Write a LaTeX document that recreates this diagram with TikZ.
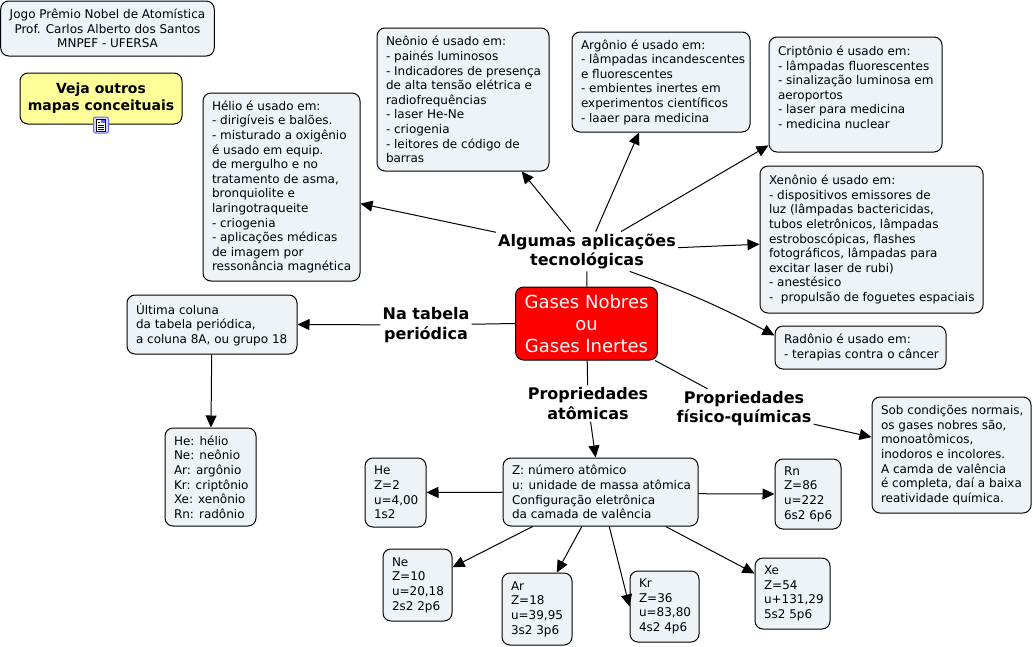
\documentclass[tikz,border=0pt]{standalone}
\usepackage{fontspec}
\setmainfont{DejaVu Sans}
\usetikzlibrary{arrows.meta, positioning}
\definecolor{boxfill}{HTML}{EDF3F6}
\definecolor{noteyellow}{HTML}{FFFF99}
\tikzset{
  mapbox/.style={draw=black, fill=boxfill, rounded corners=8pt, line width=1pt, inner xsep=9pt, inner ysep=0pt,
    align=center, font=\fontsize{12}{14.6}\selectfont},
  listbox/.style={mapbox, align=flush left, execute at begin node={\rightskip=-15pt plus 1fil\relax}},
  linkword/.style={fill=white, inner sep=2pt, align=center, font=\fontsize{16}{19.5}\selectfont\bfseries},
  link/.style={line width=1pt},
  linkarrow/.style={line width=1pt, -{Triangle[length=12pt,width=11pt]}}
}
\begin{document}
\begin{tikzpicture}[x=1pt, y=-1pt]
  \useasboundingbox (0,0) rectangle (1033,646);
  % topo
  \node[mapbox, minimum width=213pt, minimum height=55pt] (titulo) at (107.5,28.5)
    {Jogo Prêmio Nobel de Atomística\\Prof. Carlos Alberto dos Santos\\MNPEF - UFERSA};
  \node[mapbox, fill=noteyellow, inner xsep=5pt, minimum width=162pt, minimum height=51pt, font=\fontsize{14}{17}\selectfont\bfseries] (veja) at (101,98.5)
    {Veja outros\\mapas conceituais};
  % icone
  \node[draw=blue!60, fill=blue!15, rounded corners=2pt, line width=1pt, minimum width=15pt, minimum height=16pt, inner sep=0pt] (icone) at (101,125) {};
  \draw[fill=white, line width=0.6pt] (96.5,119) rectangle (105.5,131);
  \draw[line width=0.8pt] (98,122) -- (100,122) (98,125) -- (104,125) (98,127) -- (104,127) (98,129) -- (104,129);
  \fill[blue!60] (101,120) rectangle (105,123);
  % centro
  \node[mapbox, fill=red, text=white, minimum width=141pt, minimum height=73pt, font=\fontsize{18}{21.8}\selectfont] (gases) at (586.5,323.5)
    {Gases Nobres\\ou\\Gases Inertes};
  % palavras de ligacao
  \node[linkword] (algumas) at (587,251.5) {Algumas aplicações\\tecnológicas};
  \node[linkword] (tabela) at (426,325) {Na tabela\\periódica};
  \node[linkword] (atomicas) at (588,403.5) {Propriedades\\atômicas};
  \node[linkword] (fisico) at (744,408.5) {Propriedades\\físico-químicas};
  % aplicacoes
  \node[listbox, text width=139pt, minimum height=188pt] (helio) at (281.5,187)
    {Hélio é usado em:\\- dirigíveis e balões.\\- misturado a oxigênio\\é usado em equip.\\de mergulho e no\\tratamento de asma,\\bronquiolite e\\laringotraqueite\\- criogenia\\- aplicações médicas\\de imagem por\\ressonância magnética};
  \node[listbox, text width=154pt, minimum height=143pt] (neonio) at (463,99.5)
    {Neônio é usado em:\\- painés luminosos\\- Indicadores de presença\\de alta tensão elétrica e\\radiofrequências\\- laser He-Ne\\- criogenia\\- leitores de código de\\barras};
  \node[listbox, text width=160pt, minimum height=100pt] (argonio) at (661,82)
    {Argônio é usado em:\\- lâmpadas incandescentes\\e fluorescentes\\- embientes inertes em\\experimentos científicos\\- laaer para medicina};
  \node[listbox, text width=155pt, minimum height=115pt] (criptonio) at (855.5,94.5)
    {Criptônio é usado em:\\- lâmpadas fluorescentes\\- sinalização luminosa em\\aeroportos\\- laser para medicina\\- medicina nuclear\\~};
  \node[listbox, text width=205pt, minimum height=147pt] (xenonio) at (871.5,239.5)
    {Xenônio é usado em:\\- dispositivos emissores de\\luz (lâmpadas bactericidas,\\tubos eletrônicos, lâmpadas\\estroboscópicas, flashes\\fotográficos, lâmpadas para\\excitar laser de rubi)\\- anestésico\\-~~propulsão de foguetes espaciais};
  \node[listbox, text width=153pt, minimum height=43pt] (radonio) at (860.5,347.5)
    {Radônio é usado em:\\- terapias contra o câncer};
  % tabela periodica
  \node[listbox, text width=152pt, minimum height=59pt] (coluna) at (212,324.5)
    {Última coluna\\da tabela periódica,\\a coluna 8A, ou grupo 18};
  \node[listbox, text width=73pt, minimum height=98pt] (simbolos) at (210.5,477)
    {He: hélio\\Ne: neônio\\Ar: argônio\\Kr: criptônio\\Xe: xenônio\\Rn: radônio};
  % propriedades
  \node[listbox, text width=177pt, minimum height=68pt] (legenda) at (600.5,492)
    {Z: número atômico\\u: unidade de massa atômica\\Configuração eletrônica\\da camada de valência};
  \node[listbox, text width=141pt, minimum height=116pt] (condicoes) at (951.5,455)
    {Sob condições normais,\\os gases nobres são,\\monoatômicos,\\inodoros e incolores.\\A camda de valência\\é completa, daí a baixa\\reatividade química.};
  % elementos
  \node[listbox, text width=43pt, minimum height=69pt] (he) at (395.5,492.5) {He\\Z=2\\u=4,00\\1s2};
  \node[listbox, text width=51pt, minimum height=72pt] (ne) at (417.5,585) {Ne\\Z=10\\u=20,18\\2s2 2p6};
  \node[listbox, text width=52pt, minimum height=72pt] (ar) at (537,609) {Ar\\Z=18\\u=39,95\\3s2 3p6};
  \node[listbox, text width=51pt, minimum height=71pt] (kr) at (664.5,606.5) {Kr\\Z=36\\u=83,80\\4s2 4p6};
  \node[listbox, text width=57pt, minimum height=71pt] (xe) at (792.5,593.5) {Xe\\Z=54\\u+131,29\\5s2 5p6};
  \node[listbox, text width=48pt, minimum height=70pt] (rn) at (808,494) {Rn\\Z=86\\u=222\\6s2 6p6};
  % ligacoes
  \draw[link] (gases) -- (algumas);
  \draw[link] (gases.west) -- (tabela);
  \draw[link] (gases) -- (atomicas);
  \draw[link] (gases) -- (fisico);
  \draw[linkarrow] (algumas) -- (helio);
  \draw[linkarrow] (algumas) -- (neonio);
  \draw[linkarrow] (algumas) -- (argonio);
  \draw[linkarrow] (algumas) -- (criptonio);
  \draw[linkarrow] (algumas) -- (xenonio);
  \draw[linkarrow] (algumas.335) to[bend left=4] (radonio.172);
  \draw[linkarrow] (tabela) -- (coluna.east);
  \draw[linkarrow] (coluna) -- (simbolos);
  \draw[linkarrow] (atomicas) -- (legenda);
  \draw[linkarrow] (fisico) -- (condicoes);
  \draw[linkarrow] (legenda) -- (he);
  \draw[linkarrow] (legenda) -- (ne);
  \draw[linkarrow] (legenda) -- (ar);
  \draw[linkarrow] (legenda) -- (kr.west);
  \draw[linkarrow] (legenda) -- (xe);
  \draw[linkarrow] (legenda.359) -- (rn.west);
\end{tikzpicture}
\end{document}
